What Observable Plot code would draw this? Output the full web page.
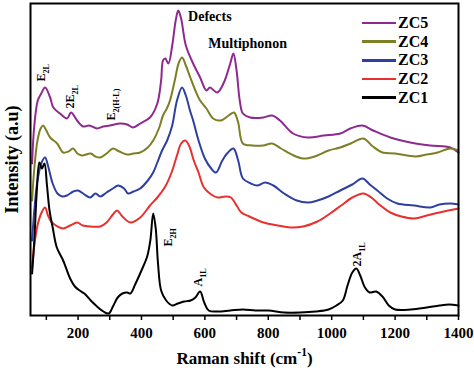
<!DOCTYPE html>
<html>
<head>
<meta charset="utf-8">
<script src="https://cdn.jsdelivr.net/npm/d3@7"></script>
<script src="https://cdn.jsdelivr.net/npm/@observablehq/plot@0.6"></script>
<style>
  html, body { margin: 0; padding: 0; background: #fff; }
  #wrap { position: relative; width: 474px; height: 370px; }
  #legend { position: absolute; left: 362px; top: 13.6px; font-family: "Liberation Serif", serif; font-weight: bold; font-size: 16px; }
  #legend .row { display: flex; align-items: center; height: 18.7px; }
  #legend .sw { width: 34px; height: 2.5px; margin-right: 2px; }
</style>
</head>
<body>
<div id="wrap"><div id="legend"></div></div>
<script>
const series = ["ZC5", "ZC4", "ZC3", "ZC2", "ZC1"];
const colors = ["#8e2a8e", "#7d7f24", "#2d3f9f", "#e8302f", "#000000"];

// Raman shift (cm-1) and intensity (a.u.)
const zc1W = [55,62,70,78,86,94,102,110,120,133,153,175,190,205,220,240,260,280,297,310,325,340,355,365,380,400,418,428,437,445,452,462,478,497,515,535,555,570,585,598,612,640,680,720,760,800,850,900,950,990,1015,1035,1050,1065,1078,1090,1105,1120,1140,1160,1180,1200,1250,1300,1340,1370,1400];
const zc1I = [42,75,125,153,147,152,130,105,88,68,55,37,29,25,22,15,9,4,2,9,18,22,23,22,31,45,59,75,102,87,53,25,15,10,12,14,15,18,24,13,5,4,5,6,5,5,3,3,4,6,10,15,30,43,47,40,28,23,24,19,10,6,6,8,10,11,10];

const zc2W = [55,62,72,85,96,105,115,130,153,175,197,215,240,270,290,310,323,340,365,396,427,450,475,495,512,525,538,550,565,580,597,620,640,665,682,700,715,740,785,830,870,910,955,995,1030,1065,1100,1125,1150,1185,1220,1260,1300,1340,1400];
const zc2I = [47,70,90,103,108,100,94,90,87,90,93,90,89,89,93,101,105,99,93,98,110,118,129,143,160,172,175,170,155,143,128,121,118,119,118,110,103,99,93,90,88,89,94,102,110,118,122,118,111,103,99,97,100,103,107];

const zc3W = [55,62,72,85,96,105,120,135,150,165,185,200,220,238,255,270,290,310,326,345,358,375,396,420,437,450,465,481,497,512,528,540,553,563,580,600,620,635,655,670,690,705,720,745,765,790,816,850,890,925,955,990,1027,1065,1097,1120,1144,1175,1207,1260,1311,1340,1374,1400];
const zc3I = [75,105,135,153,158,150,132,122,119,120,124,125,121,118,122,119,123,127,130,127,122,124,127,135,143,153,165,175,190,215,228,220,205,195,175,157,147,143,155,162,167,155,137,132,130,133,130,122,115,113,115,119,125,131,137,131,125,117,112,110,108,111,112,111];

const zc4W = [55,62,72,82,90,100,112,134,153,170,184,198,212,240,255,270,290,310,330,355,375,396,420,437,455,468,480,490,505,518,528,540,554,570,585,605,626,650,675,692,705,720,750,784,812,840,880,910,935,955,990,1027,1060,1100,1130,1160,1200,1265,1300,1334,1374,1400];
const zc4I = [115,147,175,187,190,185,178,172,163,164,167,162,160,162,159,158,162,167,164,161,162,163,168,175,187,200,207,215,235,253,258,250,238,225,215,207,197,195,200,203,193,172,170,170,172,167,160,157,158,160,165,168,172,177,169,163,162,159,161,163,167,165];

const zc5W = [55,62,73,84,96,112,122,143,165,178,197,216,235,260,280,300,333,355,374,396,427,450,462,468,475,485,497,508,516,525,540,563,585,605,616,639,660,680,690,700,710,720,743,784,812,837,878,925,975,1027,1059,1097,1131,1185,1248,1311,1374,1400];
const zc5I = [152,190,215,222,228,218,208,202,197,203,195,189,190,187,189,190,192,191,188,192,198,212,235,255,257,252,270,295,305,297,270,252,238,225,228,223,233,252,262,245,215,202,198,198,200,195,182,178,180,182,187,190,185,178,173,170,168,163];

const xMajor = [200, 400, 600, 800, 1000, 1200, 1400];
const xMinor = [100, 300, 500, 700, 900, 1100, 1300];

// peak annotations (vertical) and band annotations (horizontal)
const peakLabels = ["E_{2L}", "2E_{2L}", "E_{2(H-L)}", "E_{2H}", "A_{1L}", "2A_{1L}"];
const peakW = [96, 187, 317, 497, 592, 1094];
const peakI = [234, 207, 195, 69, 29, 49];
const bandLabels = ["Defects", "Multiphonon"];
const bandW = [547, 611];
const bandI = [299, 272];

const allW = [zc5W, zc4W, zc3W, zc2W, zc1W];
const allI = [zc5I, zc4I, zc3I, zc2I, zc1I];
const rows = [];
series.forEach((s, k) => allW[k].forEach((w, j) => rows.push({series: s, w, i: allI[k][j]})));
const peaks = peakLabels.map((t, j) => ({t, w: peakW[j], i: peakI[j]}));
const bands = bandLabels.map((t, j) => ({t, w: bandW[j], i: bandI[j]}));

const font = {fontFamily: "Liberation Serif", fontWeight: "bold"};

const plot = Plot.plot({
  width: 474,
  height: 370,
  marginLeft: 30,
  marginRight: 16,
  marginTop: 3,
  marginBottom: 55,
  style: {background: "#fff", color: "#000"},
  x: {domain: [50, 1400]},
  y: {domain: [0, 312], axis: null},
  color: {domain: series, range: colors},
  marks: [
    Plot.line(rows, {x: "w", y: "i", z: "series", stroke: "series", strokeWidth: 2, curve: "catmull-rom"}),
    Plot.frame({stroke: "#000", strokeWidth: 2}),
    Plot.axisX({ticks: xMinor, tickSize: 5, tickFormat: () => "", strokeWidth: 1.5, label: null}),
    Plot.axisX({ticks: xMajor, tickSize: 5, tickPadding: 7, strokeWidth: 1.5, fontSize: 15, ...font, tickFormat: d => String(d), label: null}),
    Plot.text(["Raman shift (cm^{-1})"], {frameAnchor: "bottom", dy: 48, fontSize: 17, ...font}),
    Plot.text(["Intensity (a.u)"], {frameAnchor: "left", textAnchor: "middle", dx: -18, rotate: -90, fontSize: 18, ...font}),
    Plot.text(peaks, {x: "w", y: "i", text: "t", rotate: -90, textAnchor: "start", lineAnchor: "bottom", fontSize: 12, ...font}),
    Plot.text(bands, {x: "w", y: "i", text: "t", textAnchor: "start", fontSize: 14, ...font})
  ]
});

const wrap = document.getElementById("wrap");
wrap.insertBefore(plot, wrap.firstChild);

// rich text: _{sub} and ^{sup}
d3.select(plot).selectAll("text").each(function () {
  const t = this.textContent;
  if (!/[_^]\{/.test(t)) return;
  const base = parseFloat(getComputedStyle(this).fontSize) || 12;
  const sel = d3.select(this);
  sel.text(null);
  const re = /([_^])\{([^}]*)\}/g;
  let last = 0, m, shift = 0;
  while ((m = re.exec(t))) {
    if (m.index > last) {
      sel.append("tspan").attr("dy", -shift).text(t.slice(last, m.index));
      shift = 0;
    }
    const s = m[1] === "_" ? base * 0.3 : -base * 0.45;
    sel.append("tspan").attr("dy", s - shift).attr("font-size", base * 0.68).text(m[2]);
    shift = s;
    last = re.lastIndex;
  }
  if (last < t.length) sel.append("tspan").attr("dy", -shift).text(t.slice(last));
});

// legend
const legend = d3.select("#legend");
series.forEach((s, k) => {
  const r = legend.append("div").attr("class", "row");
  r.append("div").attr("class", "sw").style("background", colors[k]);
  r.append("span").text(s);
});
</script>
</body>
</html>
